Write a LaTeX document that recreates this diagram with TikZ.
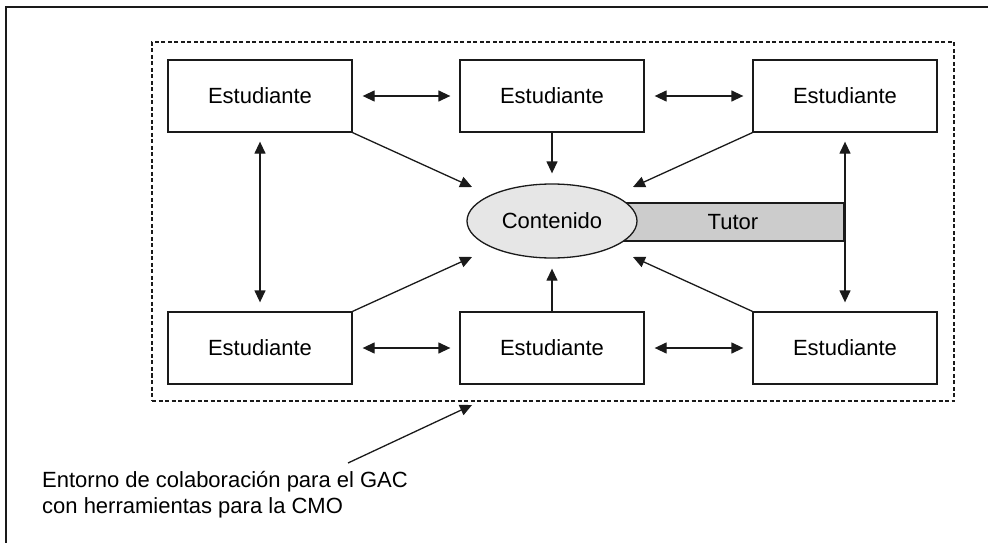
\documentclass[tikz,border=0pt]{standalone}
\usepackage{fontspec}
\setmainfont{Liberation Sans}
\usetikzlibrary{arrows.meta,shapes.geometric}
\definecolor{ell}{HTML}{E6E6E6}
\definecolor{tut}{HTML}{CCCCCC}
\definecolor{ln}{HTML}{1A1A1A}
\tikzset{
  est/.style={draw=ln, line width=1.3pt, minimum width=184pt, minimum height=72pt, inner sep=0pt,
              font=\fontsize{22}{26}\selectfont},
  arr/.style={draw=ln, line width=1.3pt, -{Triangle[length=12pt,width=11pt]}},
  darr/.style={draw=ln, line width=1.3pt, {Triangle[length=12pt,width=11pt]}-{Triangle[length=12pt,width=11pt]}},
  lbl/.style={font=\fontsize{22}{26}\selectfont, inner sep=0pt, anchor=base west}
}
\begin{document}
\begin{tikzpicture}[x=1pt,y=-1pt]
\useasboundingbox (0,0) rectangle (988,543);
\clip (0,0) rectangle (988,543);
% outer frame (right and bottom edges beyond the picture)
\draw[draw=ln, line width=1.3pt] (6,560) -- (6,7) -- (1000,7);
% dashed environment
\node[draw=ln, dashed, dash pattern=on 4pt off 2.5pt, line width=1.1pt, minimum width=802pt, minimum height=359pt, inner sep=0pt] (env) at (553,221.5) {};
% boxes
\node[est] (tl) at (260,96) {Estudiante};
\node[est] (tm) at (552,96) {Estudiante};
\node[est] (tr) at (845,96) {Estudiante};
\node[est] (bl) at (260,348) {Estudiante};
\node[est] (bm) at (552,348) {Estudiante};
\node[est] (br) at (845,348) {Estudiante};
% tutor bar
\node[draw=ln, fill=tut, line width=1.3pt, minimum width=253pt, minimum height=38pt, inner sep=0pt] (tutorbar) at (717,222) {};
\node[font=\fontsize{22}{26}\selectfont, inner sep=0pt] (tutor) at (733,222) {Tutor};
% content ellipse
\node[draw=ln, fill=ell, ellipse, line width=1.3pt, minimum width=170pt, minimum height=74pt, inner sep=0pt,
      font=\fontsize{22}{26}\selectfont] (cont) at (552,221) {Contenido};
% tips
\coordinate (t1) at (472,187);
\coordinate (t2) at (633,187);
\coordinate (t3) at (472,257);
\coordinate (t4) at (633,257);
% horizontal double arrows
\draw[darr, shorten <=10pt, shorten >=9pt] (tl.east) -- (tm.west);
\draw[darr, shorten <=10pt, shorten >=9pt] (tm.east) -- (tr.west);
\draw[darr, shorten <=10pt, shorten >=9pt] (bl.east) -- (bm.west);
\draw[darr, shorten <=10pt, shorten >=9pt] (bm.east) -- (br.west);
% vertical double arrows
\draw[darr, shorten <=9pt, shorten >=9pt] (tl.south) -- (bl.north);
\draw[darr, shorten <=9pt, shorten >=9pt] (tr.south) -- (br.north);
% arrows to content
\draw[arr] (tl.south east) -- (t1);
\draw[arr] (tr.south west) -- (t2);
\draw[arr] (bl.north east) -- (t3);
\draw[arr] (br.north west) -- (t4);
\draw[arr, shorten >=10pt] (tm.south) -- (cont.north);
\draw[arr, shorten >=10pt] (bm.north) -- (cont.south);
% callout
\node[lbl] (note1) at (42,487) {Entorno de colaboración para el GAC};
\node[lbl] (note2) at (42,513) {con herramientas para la CMO};
\coordinate (cs) at (348,463);
\coordinate (ce) at (472,405);
\draw[arr] (cs) -- (ce);
\end{tikzpicture}
\end{document}
